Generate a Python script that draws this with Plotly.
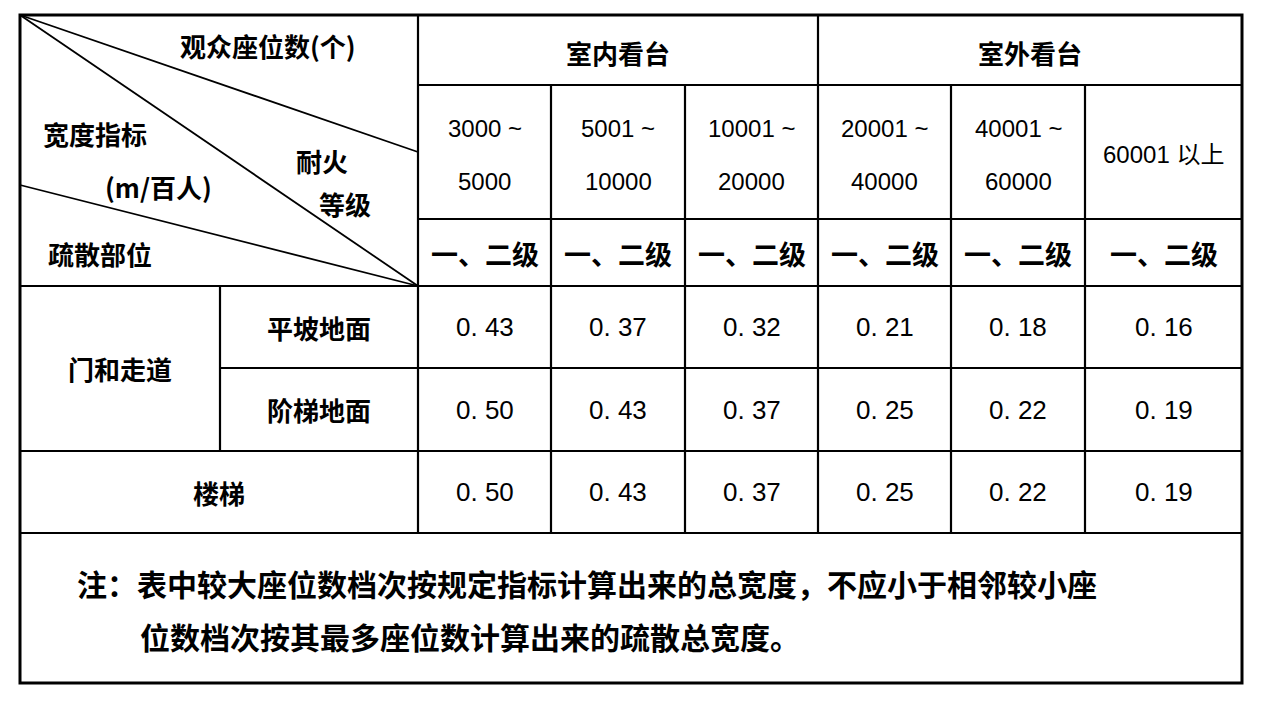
import plotly.graph_objects as go

# table geometry (pixel grid of the page)
col_x = [20, 220, 418, 551, 685, 818, 951, 1085, 1242]
row_y = [15, 85, 219, 286, 368, 451, 533, 683]

groups = ["室内看台", "室外看台"]
ranges = [["3000 ~", "5000"], ["5001 ~", "10000"], ["10001 ~", "20000"],
          ["20001 ~", "40000"], ["40001 ~", "60000"], ["60001 以上"]]
grade = "一、二级"
row_main = ["门和走道", "楼梯"]
row_sub = ["平坡地面", "阶梯地面"]
flat = [0.43, 0.37, 0.32, 0.21, 0.18, 0.16]
stair_floor = [0.50, 0.43, 0.37, 0.25, 0.22, 0.19]
stairs = [0.50, 0.43, 0.37, 0.25, 0.22, 0.19]
note = ["注：表中较大座位数档次按规定指标计算出来的总宽度，不应小于相邻较小座",
        "位数档次按其最多座位数计算出来的疏散总宽度。"]

CJK = "Noto Sans CJK SC"
NUM = "Liberation Sans, Noto Sans CJK SC"

fig = go.Figure()
shapes = []
ann = []

def line(x0, y0, x1, y1, w=2.2):
    shapes.append(dict(type="line", x0=x0, y0=y0, x1=x1, y1=y1, xref="x", yref="y",
                       line=dict(color="black", width=w)))

def text(x, y, s, size=26, font=CJK, xanchor="center", weight="bold"):
    ann.append(dict(x=x, y=y, text=s, showarrow=False, xref="x", yref="y",
                    xanchor=xanchor, yanchor="middle",
                    font=dict(family=font, size=size, color="black", weight=weight)))

L, R, T, B = col_x[0], col_x[-1], row_y[0], row_y[-1]
shapes.append(dict(type="rect", x0=L, y0=T, x1=R, y1=B, xref="x", yref="y",
                   line=dict(color="black", width=3)))
line(col_x[2], row_y[1], R, row_y[1])
line(col_x[2], row_y[2], R, row_y[2])
line(L, row_y[3], R, row_y[3])
line(col_x[1], row_y[4], R, row_y[4])
line(L, row_y[5], R, row_y[5])
line(L, row_y[6], R, row_y[6])
line(col_x[2], T, col_x[2], row_y[6])
line(col_x[5], T, col_x[5], row_y[6])
for i in [3, 4, 6, 7]:
    line(col_x[i], row_y[1], col_x[i], row_y[6])
line(col_x[1], row_y[3], col_x[1], row_y[5])
line(L, T, col_x[2], 152, 1.8)
line(L, T, col_x[2], row_y[3], 1.8)
line(L, 185, col_x[2], row_y[3], 1.8)

text(268, 45, "观众座位数(个)")
text(95, 133, "宽度指标")
text(158, 186, "(m/百人)")
text(322, 160, "耐火")
text(345, 203, "等级")
text(100, 253, "疏散部位")
for g, (a, b) in zip(groups, [(2, 5), (5, 8)]):
    text((col_x[a] + col_x[b]) / 2, 52, g)
for i, r in enumerate(ranges):
    cx = (col_x[i + 2] + col_x[i + 3]) / 2
    if len(r) == 2:
        text(cx, 128, r[0], 24, NUM, weight="normal")
        text(cx, 181, r[1], 24, NUM, weight="normal")
    else:
        text(cx, 154, r[0], 24, NUM, weight="normal")
    text(cx, 253, grade, 27)

mid = lambda a, b: (a + b) / 2
text(mid(col_x[0], col_x[1]), mid(row_y[3], row_y[5]), row_main[0])
text(mid(col_x[1], col_x[2]), mid(row_y[3], row_y[4]), row_sub[0])
text(mid(col_x[1], col_x[2]), mid(row_y[4], row_y[5]), row_sub[1])
text(mid(col_x[0], col_x[2]), mid(row_y[5], row_y[6]), row_main[1])
for r, vals in zip([3, 4, 5], [flat, stair_floor, stairs]):
    for i, v in enumerate(vals):
        s = f"{v:.2f}".replace(".", ". ")
        text(mid(col_x[i + 2], col_x[i + 3]), mid(row_y[r], row_y[r + 1]),
             s, 26, NUM, weight="normal")

text(75, 583, note[0], 30, CJK, "left")
text(138, 636, note[1], 30, CJK, "left")

fig.update_layout(
    width=1273, height=709, margin=dict(l=0, r=0, t=0, b=0),
    paper_bgcolor="white", plot_bgcolor="white",
    xaxis=dict(range=[8, 1281], visible=False, fixedrange=True),
    yaxis=dict(range=[717, 8], visible=False, fixedrange=True),
    shapes=shapes, annotations=ann, showlegend=False,
)
fig.write_html("out.html")
